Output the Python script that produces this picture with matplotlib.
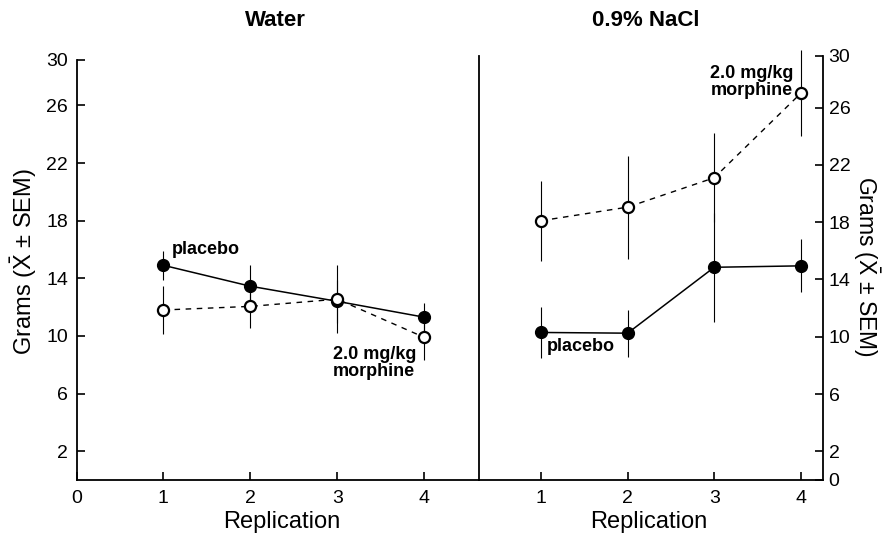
import matplotlib.pyplot as plt

plt.rcParams['font.family'] = ['Liberation Sans', 'DejaVu Sans']
plt.rcParams['mathtext.fontset'] = 'custom'
plt.rcParams['mathtext.rm'] = 'Liberation Sans'

# data
replication = [1, 2, 3, 4]

water_placebo = [14.9, 13.45, 12.4, 11.3]
water_placebo_sem = [1.0, 1.5, 1.5, 1.0]
water_morphine = [11.8, 12.05, 12.55, 9.9]
water_morphine_sem = [1.65, 1.5, 2.35, 1.6]

nacl_placebo = [10.3, 10.25, 14.85, 14.95]
nacl_placebo_sem = [1.8, 1.65, 3.8, 1.85]
nacl_morphine = [18.1, 19.05, 21.1, 27.0]
nacl_morphine_sem = [2.8, 3.6, 3.1, 3.0]

ytick_vals = [2, 6, 10, 14, 18, 22, 26]
ylabel = r'Grams ($\bar{\mathrm{X}}$ ± SEM)'

fig = plt.figure(figsize=(8.83, 5.38), dpi=100)
W, H = 883, 538
axL = fig.add_axes([76.5 / W, 58 / H, 402.5 / W, 420 / H])
axR = fig.add_axes([479 / W, 58 / H, 344 / W, 424 / H])


def draw(ax, placebo, psem, morph, msem):
    ax.errorbar(replication, placebo, yerr=psem, fmt='none', ecolor='black',
                elinewidth=0.8, capsize=0, zorder=2, clip_on=False)
    ax.errorbar(replication, morph, yerr=msem, fmt='none', ecolor='black',
                elinewidth=0.8, capsize=0, zorder=2, clip_on=False)
    ax.plot(replication, placebo, '-', color='black', lw=1.1, marker='o',
            ms=8.5, mfc='black', mec='black', zorder=3, clip_on=False)
    ax.plot(replication, morph, color='black', lw=1.0, dashes=(4, 4),
            marker='o', ms=8, mfc='white', mec='black', mew=1.6, zorder=4,
            clip_on=False)


draw(axL, water_placebo, water_placebo_sem, water_morphine, water_morphine_sem)
draw(axR, nacl_placebo, nacl_placebo_sem, nacl_morphine, nacl_morphine_sem)

# left panel axes
topL = 29.15
axL.set_xlim(0, 4.63)
axL.set_ylim(0, topL)
axL.spines['top'].set_visible(False)
axL.spines['right'].set_visible(False)
axL.set_xticks([0, 1, 2, 3, 4])
axL.set_yticks(ytick_vals + [topL])
axL.set_yticklabels([str(v) for v in ytick_vals] + ['30'])

# right panel axes
topR = 29.6
axR.set_xlim(0.284, 4.256)
axR.set_ylim(0, topR)
axR.spines['top'].set_visible(False)
axR.yaxis.tick_right()
axR.set_xticks([1, 2, 3, 4])
axR.set_yticks([0] + ytick_vals + [topR])
axR.set_yticklabels(['0'] + [str(v) for v in ytick_vals] + ['30'])

for ax in (axL, axR):
    for s in ax.spines.values():
        s.set_linewidth(1.3)
    ax.tick_params(direction='in', length=6, width=1.2, labelsize=14, pad=6)
    ax.tick_params(axis='x', pad=7)
axR.tick_params(axis='y', pad=4)

# x labels
fig.text(282 / W, 1 - 522 / H, 'Replication', ha='center', va='center',
         fontsize=17)
fig.text(649 / W, 1 - 522 / H, 'Replication', ha='center', va='center',
         fontsize=17)

# titles
fig.text(275 / W, 1 - 20 / H, 'Water', ha='center', va='center',
         fontsize=16, fontweight='bold')
fig.text(646 / W, 1 - 20 / H, '0.9% NaCl', ha='center', va='center',
         fontsize=16, fontweight='bold')

# y labels
fig.text(24 / W, 1 - 262 / H, ylabel, rotation=90, ha='center', va='center',
         fontsize=17)
fig.text(866 / W, 1 - 266 / H, ylabel, rotation=-90, ha='center', va='center',
         fontsize=16.5)

# annotations
axL.text(1.1, 16.0, 'placebo', ha='left', va='center', fontsize=13,
         fontweight='bold')
axL.text(2.95, 8.15, '2.0 mg/kg\nmorphine', ha='left', va='center',
         fontsize=13, fontweight='bold', linespacing=1.0)
axR.text(1.07, 9.3, 'placebo', ha='left', va='center', fontsize=13,
         fontweight='bold')
axR.text(3.91, 27.8, '2.0 mg/kg\nmorphine', ha='right', va='center',
         fontsize=13, fontweight='bold', linespacing=1.0)

fig.savefig('out.png', dpi=100)
